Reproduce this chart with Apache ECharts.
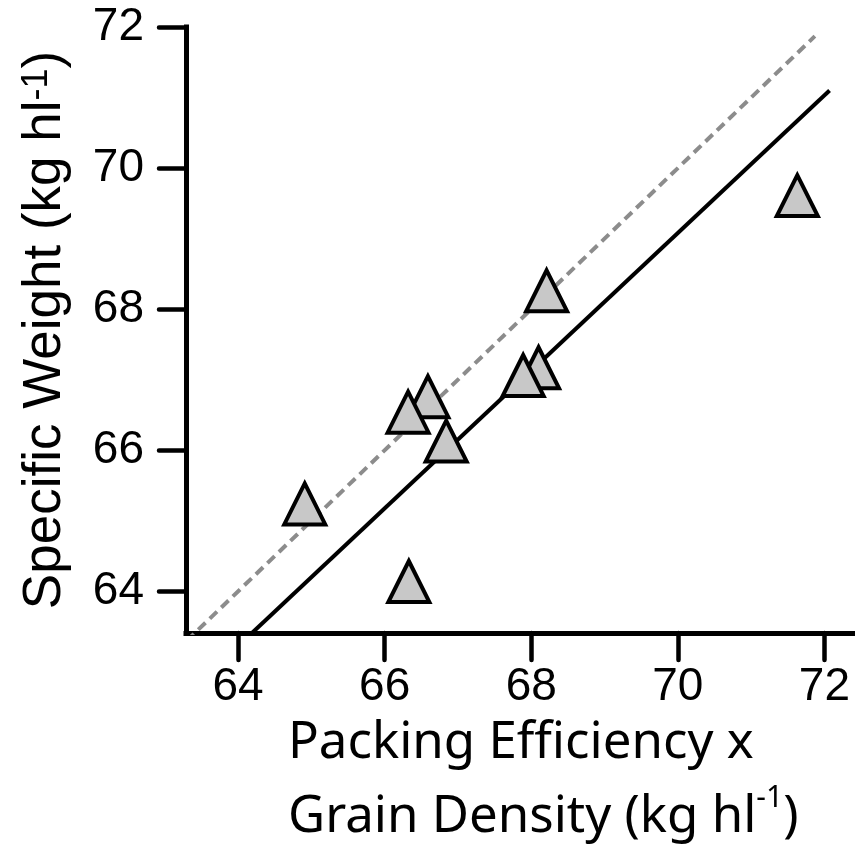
<!DOCTYPE html>
<html>
<head>
<meta charset="utf-8">
<script src="https://cdn.jsdelivr.net/npm/echarts@6/dist/echarts.min.js"></script>
<style>
html,body{margin:0;padding:0;background:#fff;}
#chart{width:855px;height:847px;}
</style>
</head>
<body>
<div id="chart"></div>
<script>
// Data
const packingX = [64.91, 66.33, 66.59, 66.32, 66.84, 68.10, 67.89, 68.21, 71.63];
const specificY = [65.24, 64.14, 66.76, 66.54, 66.13, 67.17, 67.06, 68.26, 69.61];
const fitX = [64.19, 72.07];
const fitY = [63.41, 71.10];
const oneToOneX = [63.3, 71.87];
const oneToOneY = [63.3, 71.87];
const xTicks = [64, 66, 68, 70, 72];
const yTicks = [64, 66, 68, 70, 72];

const pairs = (xs, ys) => xs.map((x, i) => [x, ys[i]]);

const chart = echarts.init(document.getElementById('chart'), null, {renderer: 'canvas'});
const axisCommon = {
  type: 'value',
  splitLine: {show: false},
  axisLine: {show: true, onZero: false, lineStyle: {color: '#000', width: 5, cap: 'square'}},
  axisTick: {show: true, length: 27, lineStyle: {color: '#000', width: 4.5, cap: 'round'}},
};
chart.setOption({
  animation: false,
  backgroundColor: '#fff',
  title: {
    text: 'Packing Efficiency x\nGrain Density (kg hl{sup|-1})',
    left: 288,
    top: 706,
    padding: 0,
    textStyle: {
      fontFamily: 'Noto Sans',
      fontSize: 51,
      fontWeight: 'normal',
      color: '#000',
      lineHeight: 74,
      rich: {
        sup: {fontFamily: 'Noto Sans', fontSize: 30, color: '#000', verticalAlign: 'top', lineHeight: 30, padding: [3, 0, 0, 0]}
      }
    }
  },
  grid: {left: 186, right: 2, top: 27, bottom: 214, containLabel: false, outerBoundsMode: 'none'},
  xAxis: Object.assign({}, axisCommon, {
    min: 63.29, max: 72.39,
    axisTick: Object.assign({}, axisCommon.axisTick, {customValues: xTicks}),
    axisLabel: {customValues: xTicks, margin: 31, fontFamily: 'Liberation Sans', fontSize: 46, color: '#000'}
  }),
  yAxis: Object.assign({}, axisCommon, {
    min: 63.41, max: 72,
    axisTick: Object.assign({}, axisCommon.axisTick, {customValues: yTicks}),
    axisLabel: {customValues: yTicks, margin: 42, fontFamily: 'Liberation Sans', fontSize: 46, color: '#000'},
    name: 'Specific Weight (kg hl{sup|-1})',
    nameLocation: 'middle',
    nameRotate: 90,
    nameGap: 114,
    nameTextStyle: {
      fontFamily: 'Liberation Sans', fontSize: 53, color: '#000',
      rich: {sup: {fontFamily: 'Liberation Sans', fontSize: 36, color: '#000', verticalAlign: 'top', lineHeight: 24, padding: [0, 0, 0, 0]}}
    }
  }),
  series: [
    {
      type: 'line', data: pairs(oneToOneX, oneToOneY), showSymbol: false, symbol: 'none', z: 2, clip: true,
      lineStyle: {color: '#8c8c8c', width: 4, type: [10, 6]}
    },
    {
      type: 'line', data: pairs(fitX, fitY), showSymbol: false, symbol: 'none', z: 2, clip: true,
      lineStyle: {color: '#000', width: 4}
    },
    {
      type: 'scatter', data: pairs(packingX, specificY), symbol: 'triangle', symbolSize: 41, z: 5,
      itemStyle: {color: '#c8c8c8', borderColor: '#000', borderWidth: 4, opacity: 1}
    }
  ]
});
</script>
</body>
</html>
